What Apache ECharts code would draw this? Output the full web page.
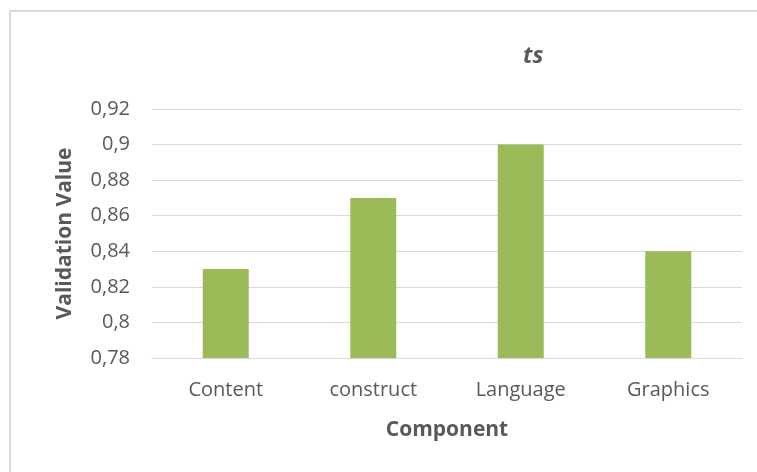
<!DOCTYPE html>
<html><head><meta charset="utf-8">
<script src="https://cdn.jsdelivr.net/npm/echarts@6/dist/echarts.min.js"></script>
<style>html,body{margin:0;padding:0;background:#fff}#c{width:757px;height:472px}</style>
</head><body><div id="c"></div>
<script>
const categories = ['Content', 'construct', 'Language', 'Graphics'];
const values = [0.83, 0.87, 0.90, 0.84];
const yMin = 0.78, yMax = 0.92, yStep = 0.02;
const titleText = 'ts';
const xName = 'Component';
const yName = 'Validation Value';

const chart = echarts.init(document.getElementById('c'));
chart.setOption({
  animation: false,
  backgroundColor: '#fff',
  graphic: [
    { type: 'polyline', shape: { points: [[10, 472], [10, 11], [757, 11]] }, style: { stroke: '#d9d9d9', lineWidth: 2, fill: null } },
    { type: 'text', left: 523, top: 45, style: { text: titleText, font: 'italic bold 23px "Open Sans"', fill: '#595959' } }
  ],
  grid: { left: 152, right: 15, top: 109, bottom: 114, containLabel: false },
  xAxis: {
    type: 'category', data: categories,
    name: xName, nameLocation: 'middle', nameGap: 62,
    nameTextStyle: { fontFamily: 'Open Sans', fontWeight: 'bold', fontSize: 21, color: '#595959' },
    axisLine: { show: true, lineStyle: { color: '#d9d9d9', width: 1 } },
    axisTick: { show: false },
    axisLabel: { fontFamily: 'Open Sans', fontSize: 20, color: '#595959', margin: 22 }
  },
  yAxis: {
    type: 'value', min: yMin, max: yMax, interval: yStep,
    name: yName, nameLocation: 'middle', nameGap: 76, nameRotate: 90,
    nameTextStyle: { fontFamily: 'Open Sans', fontWeight: 'bold', fontSize: 21, color: '#595959' },
    axisLine: { show: false }, axisTick: { show: false },
    splitLine: { lineStyle: { color: '#d9d9d9', width: 1 } },
    axisLabel: { fontFamily: 'Open Sans', fontSize: 20, color: '#595959', margin: 22,
      formatter: v => String(parseFloat(v.toFixed(2))).replace('.', ',') }
  },
  series: [{
    type: 'bar', data: values, barWidth: 46,
    itemStyle: { color: '#9bbb59' }
  }]
});
</script></body></html>
